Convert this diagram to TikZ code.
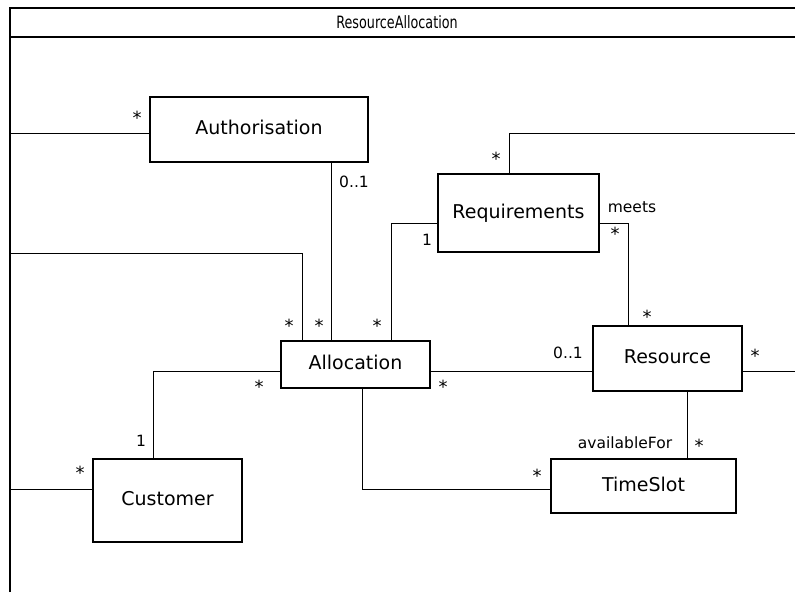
\documentclass[tikz,border=0pt]{standalone}
\usepackage{fontspec}
\setmainfont{DejaVu Sans}
\newfontfamily\titlefont[FakeStretch=0.75]{DejaVu Sans}
\begin{document}
\begin{tikzpicture}[x=1pt,y=-1pt,
  classbox/.style={draw, line width=1.1pt, inner sep=0pt, font=\fontsize{19}{22}\selectfont, text height=1.9ex, text depth=0pt},
  conn/.style={line width=0.8pt},
  frameline/.style={line width=1.1pt},
  mult/.style={inner sep=0pt, font=\fontsize{15.5}{18}\selectfont},
  star/.style={inner sep=0pt, font=\fontsize{18}{20}\selectfont},
  titletext/.style={inner sep=0pt, font=\titlefont\fontsize{17}{19}\selectfont}
]
\useasboundingbox (0,0) rectangle (795,594);
% frame
\coordinate (frTL) at (10,8);
\coordinate (frTR) at (795,8);
\coordinate (frML) at (10,37);
\coordinate (frMR) at (795,37);
\coordinate (frBL) at (10,592);
\draw[frameline] (frBL) -- (frTL) -- (frTR);
\draw[frameline] (frML) -- (frMR);
\node[titletext] (title) at (397,22) {ResourceAllocation};

% classes
\node[classbox, minimum width=218pt, minimum height=65pt] (auth) at (259,129.5) {Authorisation};
\node[classbox, minimum width=161pt, minimum height=78pt] (req) at (518.5,213) {Requirements};
\node[classbox, minimum width=149pt, minimum height=47pt] (alloc) at (355.5,364.5) {Allocation};
\node[classbox, minimum width=149pt, minimum height=65pt] (res) at (667.5,358.5) {Resource};
\node[classbox, minimum width=185pt, minimum height=54pt] (ts) at (643.5,486) {TimeSlot};
\node[classbox, minimum width=149pt, minimum height=83pt] (cust) at (167.5,500.5) {Customer};

% helper coordinates
\coordinate (fL1) at (10,133);
\coordinate (fL2) at (10,253);
\coordinate (fL3) at (10,489);
\coordinate (fR1) at (795,133);
\coordinate (fR2) at (795,371);
\coordinate (xA) at (331,0);
\coordinate (xB) at (302,0);
\coordinate (yC) at (0,223);
\coordinate (xD) at (391,0);
\coordinate (xE) at (628,0);
\coordinate (xF) at (509,0);
\coordinate (yG) at (0,371);
\coordinate (xH) at (153,0);
\coordinate (xI) at (362,0);
\coordinate (yJ) at (0,489);
\coordinate (xK) at (687,0);

% connectors
\draw[conn] (fL1) -- (auth.west |- fL1);
\draw[conn] (auth.south -| xA) -- (alloc.north -| xA);
\draw[conn] (fL2) -| (alloc.north -| xB);
\draw[conn] (req.west |- yC) -| (alloc.north -| xD);
\draw[conn] (req.east |- yC) -| (res.north -| xE);
\draw[conn] (req.north -| xF) |- (fR1);
\draw[conn] (alloc.west |- yG) -| (cust.north -| xH);
\draw[conn] (alloc.east |- yG) -- (res.west |- yG);
\draw[conn] (res.east |- yG) -- (fR2);
\draw[conn] (alloc.south -| xI) |- (ts.west |- yJ);
\draw[conn] (res.south -| xK) -- (ts.north -| xK);
\draw[conn] (fL3) -- (cust.west |- fL3);

% multiplicities (star glyph sits high in its box: nodes shifted down)
\node[star] (m1) at (137,118) {*};
\node[star] (m2) at (496,159) {*};
\node[star] (m3) at (615,234) {*};
\node[star] (m4) at (289,326) {*};
\node[star] (m5) at (319,326) {*};
\node[star] (m6) at (377,326) {*};
\node[star] (m7) at (259,387) {*};
\node[star] (m8) at (443,387) {*};
\node[star] (m9) at (647,317) {*};
\node[star] (m10) at (755,356) {*};
\node[star] (m11) at (80,473) {*};
\node[star] (m12) at (537,476) {*};
\node[star] (m13) at (699,446) {*};

\node[mult] (l1) at (354,182) {0..1};
\node[mult] (l2) at (427,240) {1};
\node[mult] (l3) at (632,207) {meets};
\node[mult] (l4) at (568,353) {0..1};
\node[mult] (l5) at (141,441) {1};
\node[mult] (l6) at (625,443) {availableFor};
\end{tikzpicture}
\end{document}
